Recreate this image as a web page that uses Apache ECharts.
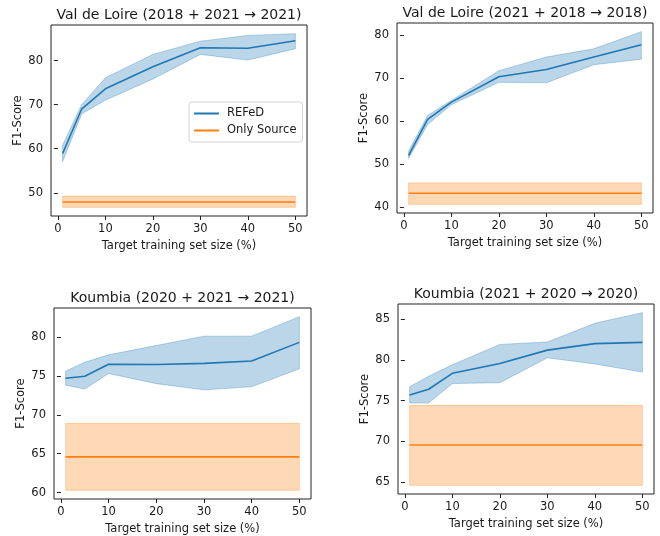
<!DOCTYPE html>
<html>
<head>
<meta charset="utf-8">
<script src="https://cdn.jsdelivr.net/npm/echarts@6/dist/echarts.min.js"></script>
<style>
  html, body { margin: 0; padding: 0; background: #fff; }
  #chart { width: 660px; height: 536px; }
</style>
</head>
<body>
<div id="chart"></div>
<script>
// target training set sizes (%)
const sizes = [1, 5, 10, 20, 30, 40, 50];
const xTicks = [0, 10, 20, 30, 40, 50];

const titles = [
  "Val de Loire (2018 + 2021 \u2192 2021)",
  "Val de Loire (2021 + 2018 \u2192 2018)",
  "Koumbia (2020 + 2021 \u2192 2021)",
  "Koumbia (2021 + 2020 \u2192 2020)"
];

// Val de Loire 2018 + 2021 -> 2021
const refedMean1 = [58.9, 69.0, 73.6, 78.6, 82.9, 82.8, 84.5];
const refedHigh1 = [60.8, 70.0, 76.1, 81.4, 84.4, 85.7, 86.1];
const refedLow1 = [57.1, 67.9, 71.0, 75.8, 81.4, 80.1, 82.7];
const sourceMean1 = 47.9;
const sourceBand1 = [46.7, 49.25];
const yTicks1 = [50, 60, 70, 80];

// Val de Loire 2021 + 2018 -> 2018
const refedMean2 = [52.0, 60.4, 64.4, 70.3, 72.0, 74.9, 77.75];
const refedHigh2 = [53.0, 61.3, 64.8, 71.7, 74.9, 76.8, 80.8];
const refedLow2 = [51.3, 59.2, 63.8, 69.0, 68.9, 73.1, 74.4];
const sourceMean2 = 43.2;
const sourceBand2 = [40.6, 45.6];
const yTicks2 = [40, 50, 60, 70, 80];

// Koumbia 2020 + 2021 -> 2021
const refedMean3 = [74.7, 74.95, 76.5, 76.45, 76.6, 76.9, 79.3];
const refedHigh3 = [75.6, 76.75, 77.7, 78.9, 80.1, 80.1, 82.6];
const refedLow3 = [73.8, 73.3, 75.3, 74.0, 73.2, 73.6, 75.9];
const sourceMean3 = 64.6;
const sourceBand3 = [60.3, 68.9];
const yTicks3 = [60, 65, 70, 75, 80];

// Koumbia 2021 + 2020 -> 2020
const refedMean4 = [75.7, 76.4, 78.35, 79.55, 81.2, 82.0, 82.15];
const refedHigh4 = [76.7, 78.0, 79.4, 81.9, 82.2, 84.5, 85.8];
const refedLow4 = [74.7, 74.7, 77.1, 77.2, 80.25, 79.5, 78.5];
const sourceMean4 = 69.55;
const sourceBand4 = [64.6, 74.4];
const yTicks4 = [65, 70, 75, 80, 85];

const panels = [
  { mean: refedMean1, high: refedHigh1, low: refedLow1, src: sourceMean1, srcBand: sourceBand1, yTicks: yTicks1 },
  { mean: refedMean2, high: refedHigh2, low: refedLow2, src: sourceMean2, srcBand: sourceBand2, yTicks: yTicks2 },
  { mean: refedMean3, high: refedHigh3, low: refedLow3, src: sourceMean3, srcBand: sourceBand3, yTicks: yTicks3 },
  { mean: refedMean4, high: refedHigh4, low: refedLow4, src: sourceMean4, srcBand: sourceBand4, yTicks: yTicks4 }
];

// grid boxes: left, top, width, height
const boxes = [
  [51, 25, 256, 191],
  [397, 23, 256, 190],
  [54, 308, 257, 191],
  [398, 304, 256, 190]
];

const BLUE = "#1f77b4";
const ORANGE = "#ff7f0e";
const FONT = "DejaVu Sans";
const TXT = "#1a1a1a";

// matplotlib-like autoscale: 5% margin on each side
function limits(vals) {
  const lo = Math.min(...vals), hi = Math.max(...vals);
  const m = (hi - lo) * 0.05;
  return [lo - m, hi + m];
}

function band(gi, xs, low, high, color) {
  return {
    type: "custom",
    xAxisIndex: gi,
    yAxisIndex: gi,
    silent: true,
    z: 1,
    data: xs.map((x, i) => [x, low[i], high[i]]),
    encode: { x: 0, y: [1, 2] },
    renderItem: function (params, api) {
      if (params.dataIndex !== 0) return null;
      const pts = [];
      for (let i = 0; i < xs.length; i++) pts.push(api.coord([xs[i], high[i]]));
      for (let i = xs.length - 1; i >= 0; i--) pts.push(api.coord([xs[i], low[i]]));
      return {
        type: "polygon",
        shape: { points: pts },
        style: { fill: color, stroke: color, lineWidth: 1 }
      };
    }
  };
}

const grids = [], xAxes = [], yAxes = [], series = [], graphics = [];
const xLim = limits(sizes);
const ends = [sizes[0], sizes[sizes.length - 1]];

panels.forEach((p, gi) => {
  const b = boxes[gi];
  grids.push({
    left: b[0], top: b[1], width: b[2], height: b[3],
    show: true, borderColor: "#222", borderWidth: 1, backgroundColor: "#fff"
  });
  xAxes.push({
    type: "value", gridIndex: gi, min: xLim[0], max: xLim[1],
    name: "Target training set size (%)", nameLocation: "middle", nameGap: 24,
    nameTextStyle: { fontFamily: FONT, fontSize: 11.5, color: TXT },
    axisLine: { show: false },
    splitLine: { show: false },
    axisTick: { show: true, inside: false, length: 4, customValues: xTicks, lineStyle: { color: "#222" } },
    axisLabel: { customValues: xTicks, margin: 7, fontFamily: FONT, fontSize: 11.5, color: TXT }
  });
  const yLim = limits(p.high.concat(p.low, p.srcBand));
  yAxes.push({
    type: "value", gridIndex: gi, min: yLim[0], max: yLim[1],
    name: "F1-Score", nameLocation: "middle", nameGap: 27,
    nameTextStyle: { fontFamily: FONT, fontSize: 11.5, color: TXT },
    axisLine: { show: false },
    splitLine: { show: false },
    axisTick: { show: true, inside: false, length: 4, customValues: p.yTicks, lineStyle: { color: "#222" } },
    axisLabel: { customValues: p.yTicks, margin: 8, fontFamily: FONT, fontSize: 11.5, color: TXT }
  });

  series.push(band(gi, sizes, p.low, p.high, "rgba(31,119,180,0.3)"));
  series.push(band(gi, ends, [p.srcBand[0], p.srcBand[0]], [p.srcBand[1], p.srcBand[1]], "rgba(255,127,14,0.3)"));
  series.push({
    name: "REFeD", type: "line", xAxisIndex: gi, yAxisIndex: gi,
    data: sizes.map((x, i) => [x, p.mean[i]]),
    symbol: "none", z: 3, silent: true,
    lineStyle: { color: BLUE, width: 1.6 }, itemStyle: { color: BLUE }
  });
  series.push({
    name: "Only Source", type: "line", xAxisIndex: gi, yAxisIndex: gi,
    data: ends.map(x => [x, p.src]),
    symbol: "none", z: 3, silent: true,
    lineStyle: { color: ORANGE, width: 1.6 }, itemStyle: { color: ORANGE }
  });

  graphics.push({
    type: "text",
    x: b[0] + b[2] / 2,
    y: b[1] - 10,
    style: {
      text: titles[gi], fontFamily: FONT, fontSize: 14, fill: TXT,
      textAlign: "center", textVerticalAlign: "middle"
    }
  });
});

const chart = echarts.init(document.getElementById("chart"), null, { renderer: "canvas" });
chart.setOption({
  animation: false,
  backgroundColor: "#fff",
  grid: grids,
  xAxis: xAxes,
  yAxis: yAxes,
  series: series,
  graphic: graphics,
  legend: {
    data: ["REFeD", "Only Source"],
    orient: "vertical",
    left: 189, top: 102,
    padding: [5, 6, 5, 5],
    icon: "rect",
    itemWidth: 25, itemHeight: 2, itemGap: 4,
    backgroundColor: "rgba(255,255,255,0.8)",
    borderColor: "#d5d5d5", borderWidth: 1, borderRadius: 3,
    selectedMode: false,
    textStyle: { fontFamily: FONT, fontSize: 11.5, color: TXT, padding: [0, 0, 0, 3], lineHeight: 13 }
  }
});
</script>
</body>
</html>
